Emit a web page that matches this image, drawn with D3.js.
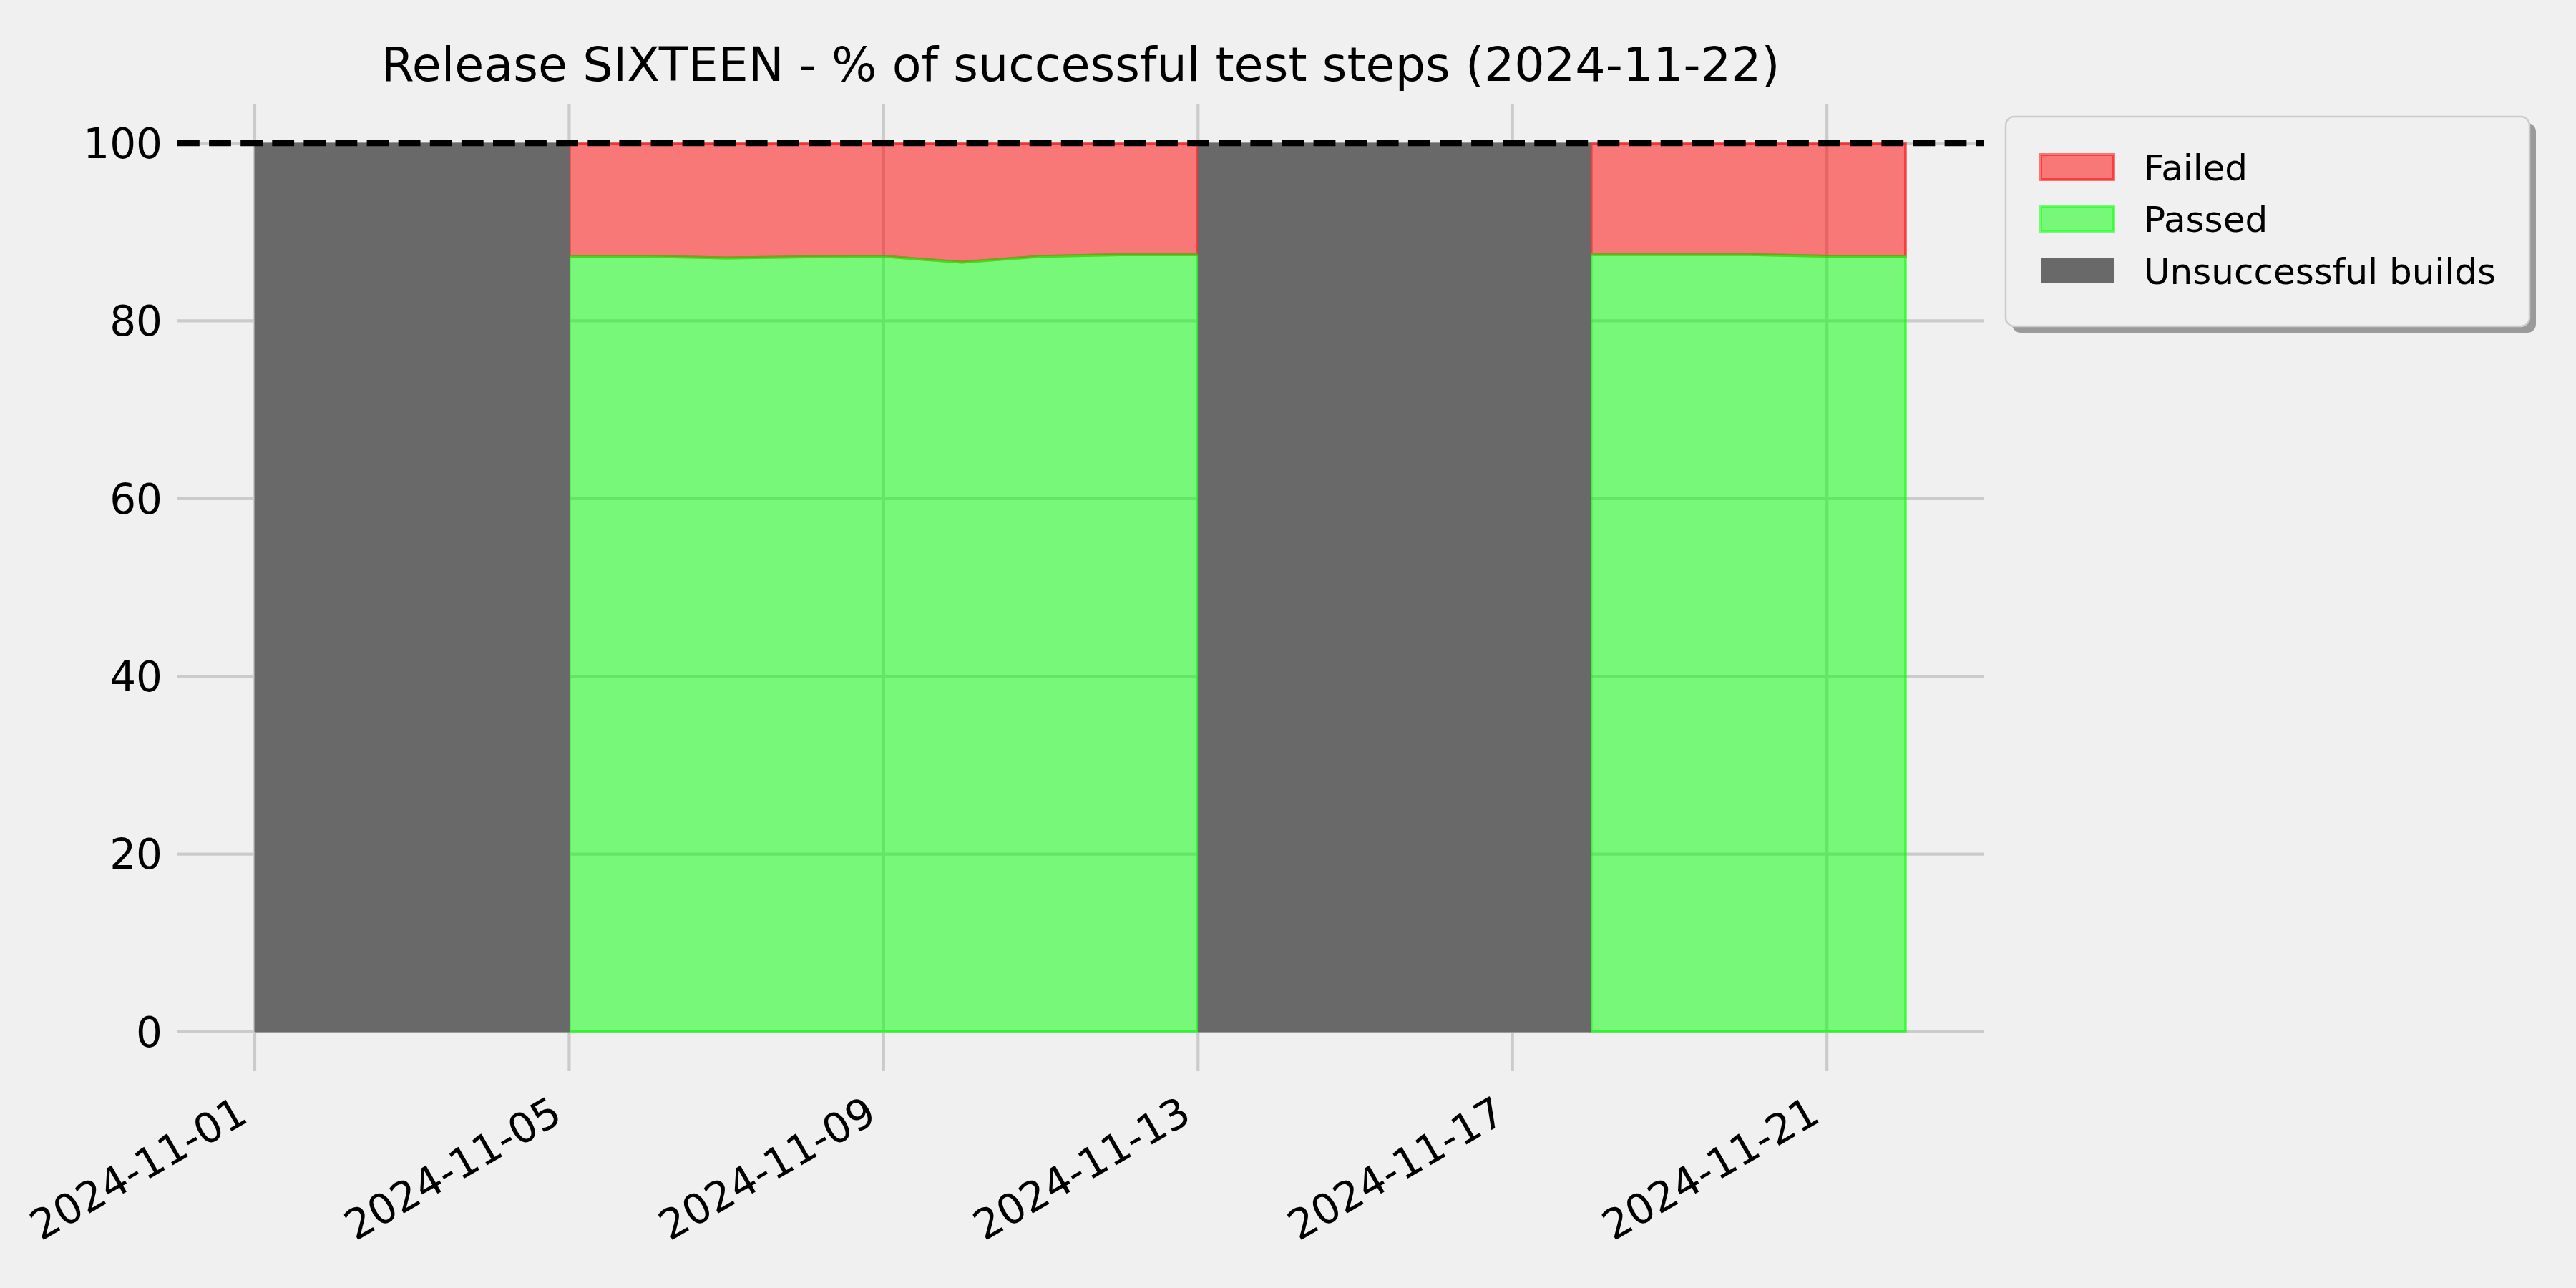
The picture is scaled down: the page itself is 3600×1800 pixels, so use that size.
<!DOCTYPE html>
<html>
<head>
<meta charset="utf-8">
<script src="https://cdn.jsdelivr.net/npm/d3@7"></script>
<style>
  html, body { margin: 0; padding: 0; background: #f0f0f0; }
  svg { display: block; }
  text { font-family: "DejaVu Sans", sans-serif; fill: #000; }
</style>
</head>
<body>
<script>
// ---------------- data ----------------
const dates = ["2024-11-01","2024-11-02","2024-11-03","2024-11-04","2024-11-05","2024-11-06",
  "2024-11-07","2024-11-08","2024-11-09","2024-11-10","2024-11-11","2024-11-12","2024-11-13",
  "2024-11-14","2024-11-15","2024-11-16","2024-11-17","2024-11-18","2024-11-19","2024-11-20",
  "2024-11-21","2024-11-22"];
const buildOk = [false,false,false,false,true,true,true,true,true,true,true,true,true,
  false,false,false,false,true,true,true,true,true];
const passed = [null,null,null,null,87.25,87.25,87.07,87.2,87.25,86.6,87.25,87.44,87.44,
  null,null,null,null,87.46,87.46,87.46,87.28,87.28];
const failed = [null,null,null,null,12.75,12.75,12.93,12.8,12.75,13.4,12.75,12.56,12.56,
  null,null,null,null,12.54,12.54,12.54,12.72,12.72];
const targetLine = 100;
const yTicks = [0, 20, 40, 60, 80, 100];
const xTickLabels = ["2024-11-01","2024-11-05","2024-11-09","2024-11-13","2024-11-17","2024-11-21"];
const seriesNames = ["Failed", "Passed", "Unsuccessful builds"];
const title = "Release SIXTEEN - % of successful test steps (2024-11-22)";

// ---------------- layout ----------------
const W = 3600, H = 1800;
const axL = 248, axR = 2772, axT = 145, axB = 1497;
const parse = d3.utcParse("%Y-%m-%d");
const D = dates.map(parse);

const x = d3.scaleUtc().domain([D[0], D[D.length - 1]]).range([356, 2663]);
const y = d3.scaleLinear().domain([0, 100]).range([1442, 200]);

const svg = d3.select("body").append("svg").attr("width", W).attr("height", H);
svg.append("rect").attr("width", W).attr("height", H).attr("fill", "#f0f0f0");

// grid
const grid = svg.append("g").attr("stroke", "#cbcbcb").attr("stroke-width", 4.2);
grid.selectAll("line.h").data(yTicks).join("line")
  .attr("x1", axL).attr("x2", axR).attr("y1", d => y(d)).attr("y2", d => y(d));
grid.selectAll("line.v").data(xTickLabels).join("line")
  .attr("x1", d => x(parse(d))).attr("x2", d => x(parse(d))).attr("y1", axT).attr("y2", axB);

const rows = D.map((d, i) => ({ date: d, ok: buildOk[i], p: passed[i], f: failed[i] }));

const passedArea = d3.area().defined(r => r.p != null)
  .x(r => x(r.date)).y0(y(0)).y1(r => y(r.p));
const failedArea = d3.area().defined(r => r.p != null)
  .x(r => x(r.date)).y0(r => y(r.p)).y1(r => y(r.p + r.f));

svg.append("path").attr("d", failedArea(rows))
  .attr("fill", "#ff0000").attr("fill-opacity", 0.5)
  .attr("stroke", "#ff0000").attr("stroke-opacity", 0.5).attr("stroke-width", 4);
svg.append("path").attr("d", passedArea(rows))
  .attr("fill", "#00ff00").attr("fill-opacity", 0.5)
  .attr("stroke", "#00ff00").attr("stroke-opacity", 0.5).attr("stroke-width", 4);

// unsuccessful builds spans (runs of failed builds, joined to neighbouring days)
const spans = [];
for (let i = 0; i < rows.length; i++) {
  if (!rows[i].ok) {
    let j = i;
    while (j + 1 < rows.length && !rows[j + 1].ok) j++;
    spans.push(rows.slice(Math.max(0, i - 1), Math.min(rows.length - 1, j + 1) + 1));
    i = j;
  }
}
const unsArea = d3.area().x(r => x(r.date)).y0(y(0)).y1(y(100));
svg.selectAll("path.uns").data(spans).join("path").attr("class", "uns")
  .attr("d", unsArea).attr("fill", "#696969").attr("stroke", "#696969").attr("stroke-width", 1);

// target dashed line
svg.append("line").attr("x1", axL).attr("x2", axR)
  .attr("y1", y(targetLine)).attr("y2", y(targetLine))
  .attr("stroke", "#000").attr("stroke-width", 8.3).attr("stroke-dasharray", "30.8,13.3");

// y tick labels
svg.selectAll("text.yt").data(yTicks).join("text").attr("class", "yt")
  .attr("x", 227).attr("y", d => y(d)).attr("dy", "0.36em")
  .attr("text-anchor", "end").attr("font-size", 58).text(d => d);

// x tick labels (rotated 30deg, right aligned)
svg.selectAll("text.xt").data(xTickLabels).join("text").attr("class", "xt")
  .attr("transform", d => `translate(${x(parse(d))},1578) rotate(-30)`)
  .attr("y", -13.7).attr("text-anchor", "end").attr("font-size", 58).text(d => d);

// title
svg.append("text").attr("x", 1510).attr("y", 113).attr("text-anchor", "middle")
  .attr("font-size", 66.7).text(title);

// legend
const lg = svg.append("g");
lg.append("rect").attr("x", 2812).attr("y", 172).attr("width", 732).attr("height", 293)
  .attr("rx", 12).attr("fill", "#9a9a9a");
lg.append("rect").attr("x", 2803).attr("y", 163).attr("width", 732).attr("height", 293)
  .attr("rx", 12).attr("fill", "#f0f0f0").attr("stroke", "#cccccc").attr("stroke-width", 2.5);
const legStyles = [
  { fill: "#ff0000", op: 0.5 },
  { fill: "#00ff00", op: 0.5 },
  { fill: "#696969", op: 1 }
];
seriesNames.forEach((name, i) => {
  const cy = 233.5 + i * 72.5;
  lg.append("rect").attr("x", 2852).attr("y", cy - 17.5).attr("width", 102).attr("height", 35)
    .attr("fill", legStyles[i].fill).attr("fill-opacity", legStyles[i].op)
    .attr("stroke", legStyles[i].fill).attr("stroke-opacity", legStyles[i].op)
    .attr("stroke-width", i < 2 ? 4 : 0);
  lg.append("text").attr("x", 2996).attr("y", cy + 18).attr("font-size", 50).text(name);
});
</script>
</body>
</html>
